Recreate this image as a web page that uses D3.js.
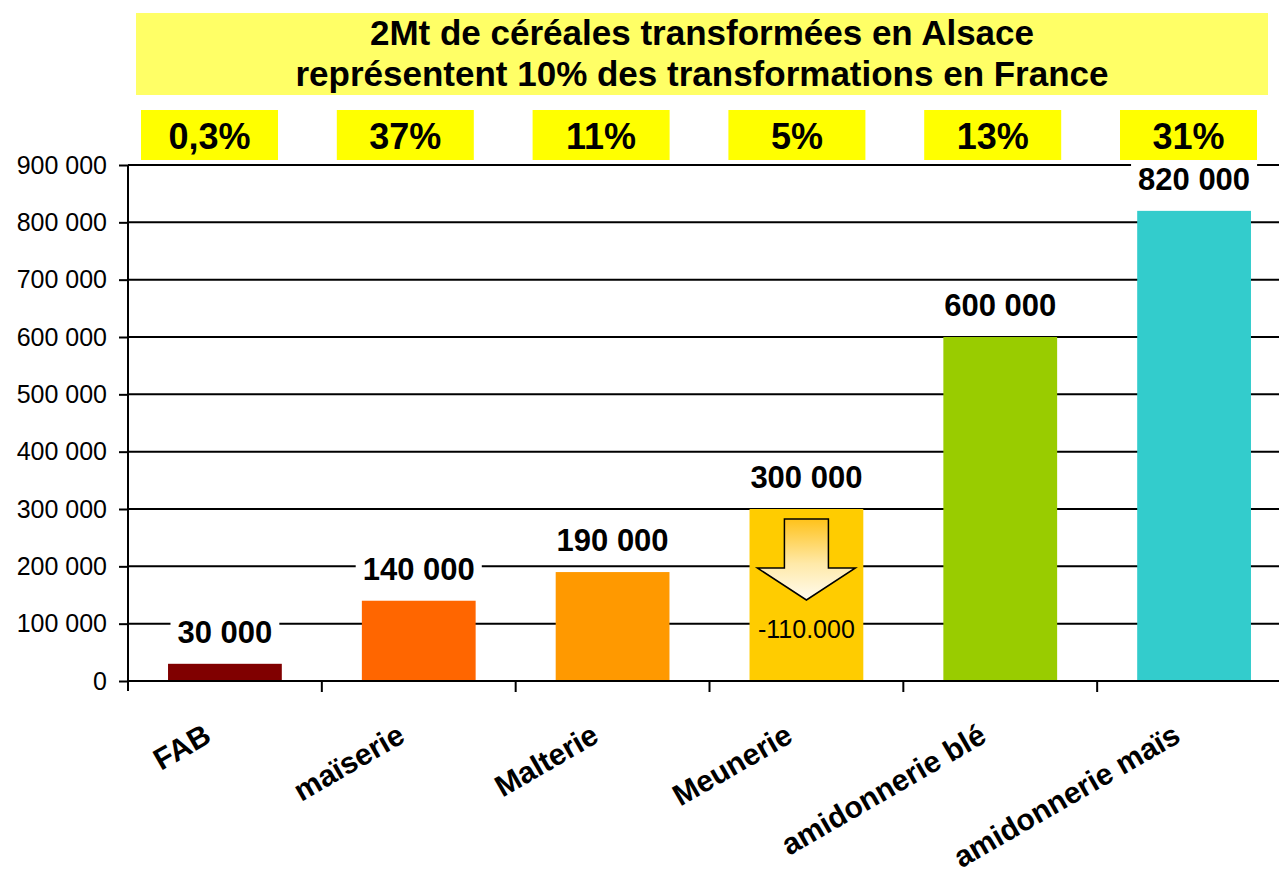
<!DOCTYPE html>
<html>
<head>
<meta charset="utf-8">
<script src="https://cdn.jsdelivr.net/npm/d3@7"></script>
<style>
  body { margin: 0; background: #fff; }
  text { font-family: "Liberation Sans", Arial, sans-serif; }
</style>
</head>
<body>
<script>
var categories = ["FAB", "maïserie", "Malterie", "Meunerie", "amidonnerie blé", "amidonnerie maïs"];
var tonnes = [30000, 140000, 190000, 300000, 600000, 820000];
var shares = ["0,3%", "37%", "11%", "5%", "13%", "31%"];
var barColors = ["#800000", "#FF6600", "#FF9900", "#FFCC00", "#99CC00", "#33CCCC"];
var yTicks = [0, 100000, 200000, 300000, 400000, 500000, 600000, 700000, 800000, 900000];
var titleLines = ["2Mt de céréales transformées en Alsace", "représentent 10% des transformations en France"];
var dropCategory = "Meunerie";
var dropLabel = "-110.000";

var w = 1279, h = 877;
var fr = d3.formatLocale({decimal: ",", thousands: " ", grouping: [3], currency: ["", " €"]});
var fmt = fr.format(",");

var svg = d3.select("body").append("svg")
    .attr("width", w)
    .attr("height", h);

var x = d3.scaleBand()
    .domain(categories)
    .range([128, 1291])
    .paddingInner(0.413)
    .paddingOuter(0.2065);

var y = d3.scaleLinear()
    .domain([0, 900000])
    .range([681, 165]);

// gridlines
svg.append("g").selectAll("line")
    .data(yTicks.filter(function (d) { return d > 0; }))
    .enter().append("line")
    .attr("x1", 128).attr("x2", 1291)
    .attr("y1", function (d) { return y(d); })
    .attr("y2", function (d) { return y(d); })
    .attr("stroke", "#000")
    .attr("stroke-width", 2);

// bars
svg.append("g").selectAll("rect")
    .data(tonnes)
    .enter().append("rect")
    .attr("x", function (d, i) { return x(categories[i]); })
    .attr("y", function (d) { return y(d); })
    .attr("width", x.bandwidth())
    .attr("height", function (d) { return y(0) - y(d); })
    .attr("fill", function (d, i) { return barColors[i]; });

// value labels with white background
var vl = svg.append("g").selectAll("g")
    .data(tonnes)
    .enter().append("g");
vl.append("text")
    .attr("x", function (d, i) { return x(categories[i]) + x.bandwidth() / 2; })
    .attr("y", function (d) { return y(d) - 21; })
    .attr("text-anchor", "middle")
    .attr("font-size", 31)
    .attr("font-weight", "bold")
    .text(function (d) { return fmt(d); });
vl.each(function () {
    var g = d3.select(this);
    var bb = g.select("text").node().getBBox();
    g.insert("rect", "text")
        .attr("x", bb.x - 7).attr("y", bb.y + 2)
        .attr("width", bb.width + 14).attr("height", bb.height - 2)
        .attr("fill", "#fff");
});

// y axis
var yAxis = d3.axisLeft(y)
    .tickValues(yTicks)
    .tickSize(9)
    .tickPadding(12)
    .tickFormat(fmt);
var ya = svg.append("g")
    .attr("transform", "translate(128,0)")
    .call(yAxis);
ya.select(".domain").remove();
ya.selectAll(".tick line").attr("stroke", "#000").attr("stroke-width", 2);
ya.selectAll(".tick text")
    .attr("font-family", "Liberation Sans, Arial, sans-serif")
    .attr("font-size", 25)
    .attr("fill", "#000");
svg.append("line")
    .attr("x1", 128).attr("x2", 128)
    .attr("y1", y(900000)).attr("y2", y(0) + 10)
    .attr("stroke", "#000").attr("stroke-width", 2);

// x axis
svg.append("line")
    .attr("x1", 128).attr("x2", 1291)
    .attr("y1", y(0)).attr("y2", y(0))
    .attr("stroke", "#000").attr("stroke-width", 2);
svg.append("g").selectAll("line")
    .data(d3.range(1, categories.length))
    .enter().append("line")
    .attr("x1", function (i) { return 128 + i * x.step(); })
    .attr("x2", function (i) { return 128 + i * x.step(); })
    .attr("y1", y(0)).attr("y2", y(0) + 11)
    .attr("stroke", "#000").attr("stroke-width", 2);

svg.append("g").selectAll("text")
    .data(categories)
    .enter().append("text")
    .attr("transform", function (d) {
        return "translate(" + (x(d) + x.bandwidth() / 2 - 12) + "," + (y(0) + 60) + ") rotate(-30)";
    })
    .attr("text-anchor", "end")
    .attr("font-size", 30)
    .attr("font-weight", "bold")
    .text(function (d) { return d; });

// Meunerie drop arrow
var defs = svg.append("defs");
var grad = defs.append("linearGradient")
    .attr("id", "arrowGrad")
    .attr("x1", 0).attr("y1", 0).attr("x2", 0).attr("y2", 1);
grad.append("stop").attr("offset", "0%").attr("stop-color", "#FFC21A");
grad.append("stop").attr("offset", "55%").attr("stop-color", "#FFE9A8");
grad.append("stop").attr("offset", "100%").attr("stop-color", "#FFFBEF");

var ax = x(dropCategory) + x.bandwidth() / 2;
var atop = y(tonnes[categories.indexOf(dropCategory)]) + 10;
var arrowPts = [
    [ax - 22, atop], [ax + 22, atop], [ax + 22, atop + 49],
    [ax + 49, atop + 49], [ax, atop + 81], [ax - 49, atop + 49],
    [ax - 22, atop + 49]
];
svg.append("path")
    .attr("d", d3.line()(arrowPts) + "Z")
    .attr("fill", "url(#arrowGrad)")
    .attr("stroke", "#000")
    .attr("stroke-width", 1.5)
    .attr("stroke-linejoin", "miter");
svg.append("text")
    .attr("x", ax)
    .attr("y", atop + 119)
    .attr("text-anchor", "middle")
    .attr("font-size", 25)
    .text(dropLabel);

// share boxes
var px = d3.scalePoint()
    .domain(categories)
    .range([209.5, 1188.5]);
var sb = svg.append("g").selectAll("g")
    .data(shares)
    .enter().append("g");
sb.append("rect")
    .attr("x", function (d, i) { return px(categories[i]) - 68.5; })
    .attr("y", 110)
    .attr("width", 137)
    .attr("height", 50)
    .attr("fill", "#FFFF00");
sb.append("text")
    .attr("x", function (d, i) { return px(categories[i]); })
    .attr("y", 149)
    .attr("text-anchor", "middle")
    .attr("font-size", 36)
    .attr("font-weight", "bold")
    .text(function (d) { return d; });

// title
svg.append("rect")
    .attr("x", 136).attr("y", 13)
    .attr("width", 1132).attr("height", 82)
    .attr("fill", "#FFFF66");
svg.append("g").selectAll("text")
    .data(titleLines)
    .enter().append("text")
    .attr("x", 702)
    .attr("y", function (d, i) { return 45 + i * 41; })
    .attr("text-anchor", "middle")
    .attr("font-size", 35)
    .attr("font-weight", "bold")
    .text(function (d) { return d; });
</script>
</body>
</html>
